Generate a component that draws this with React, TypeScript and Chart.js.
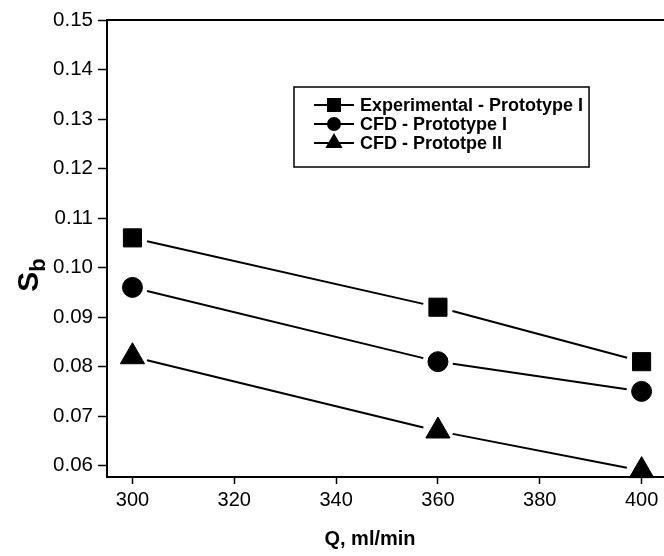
import React, { useEffect, useRef } from 'react';
import { Chart, registerables } from 'chart.js';

Chart.register(...registerables);

// ---- data ----
const flowRates = [300, 360, 400];
const experimentalProtoI = [0.106, 0.092, 0.081];
const cfdProtoI = [0.096, 0.081, 0.075];
const cfdProtoII = [0.082, 0.067, 0.059];
const seriesLabels = ['Experimental - Prototype I', 'CFD - Prototype I', 'CFD - Prototpe II'];
const seriesMarkers = ['rect', 'circle', 'triangle'];
const xTickValues = [300, 320, 340, 360, 380, 400];
const yTickValues = [0.06, 0.07, 0.08, 0.09, 0.1, 0.11, 0.12, 0.13, 0.14, 0.15];
const xTitle = 'Q, ml/min';
const yTitleMain = 'S';
const yTitleSub = 'b';

const FONT = '"Liberation Sans", Arial, Helvetica, sans-serif';
const W = 664;
const H = 556;

function drawMarker(ctx: CanvasRenderingContext2D, style: string, x: number, y: number, s: number) {
  ctx.beginPath();
  if (style === 'rect') {
    ctx.rect(x - s / 2, y - s / 2, s, s);
  } else if (style === 'circle') {
    ctx.arc(x, y, s / 2, 0, Math.PI * 2);
  } else {
    const r = s / 1.5;
    ctx.moveTo(x, y - r);
    ctx.lineTo(x + r * 0.866, y + r * 0.5);
    ctx.lineTo(x - r * 0.866, y + r * 0.5);
    ctx.closePath();
  }
  ctx.fill();
}

const gapLinesPlugin = {
  id: 'gapLines',
  beforeDatasetsDraw(chart: any) {
    const ctx = chart.ctx as CanvasRenderingContext2D;
    const gap = 15;
    ctx.save();
    ctx.strokeStyle = '#000';
    ctx.lineWidth = 2;
    chart.data.datasets.forEach((_ds: any, i: number) => {
      const pts = chart.getDatasetMeta(i).data;
      for (let k = 0; k < pts.length - 1; k++) {
        const a = pts[k];
        const b = pts[k + 1];
        const dx = b.x - a.x;
        const dy = b.y - a.y;
        const len = Math.hypot(dx, dy);
        const ux = dx / len;
        const uy = dy / len;
        ctx.beginPath();
        ctx.moveTo(a.x + ux * gap, a.y + uy * gap);
        ctx.lineTo(b.x - ux * gap, b.y - uy * gap);
        ctx.stroke();
      }
    });
    ctx.restore();
  },
};

const decorPlugin = {
  id: 'decor',
  afterDraw(chart: any) {
    const ctx = chart.ctx as CanvasRenderingContext2D;
    const area = chart.chartArea;
    ctx.save();
    // top frame line
    ctx.strokeStyle = '#000';
    ctx.lineWidth = 2;
    ctx.beginPath();
    ctx.moveTo(area.left - 1, area.top);
    ctx.lineTo(W, area.top);
    ctx.stroke();

    // x title
    ctx.fillStyle = '#000';
    ctx.font = `bold 20px ${FONT}`;
    ctx.textAlign = 'center';
    ctx.textBaseline = 'alphabetic';
    ctx.fillText(xTitle, 370, 545);

    // y title with subscript
    ctx.save();
    ctx.translate(38, 275);
    ctx.rotate(-Math.PI / 2);
    ctx.font = `bold 30px ${FONT}`;
    const wS = ctx.measureText(yTitleMain).width;
    ctx.font = `bold 22px ${FONT}`;
    const wB = ctx.measureText(yTitleSub).width;
    const total = wS + wB;
    ctx.textAlign = 'left';
    ctx.font = `bold 30px ${FONT}`;
    ctx.fillText(yTitleMain, -total / 2, 0);
    ctx.font = `bold 22px ${FONT}`;
    ctx.fillText(yTitleSub, -total / 2 + wS, 7);
    ctx.restore();

    // legend
    const lx = 294;
    const ly = 87;
    ctx.font = `bold 18px ${FONT}`;
    let maxW = 0;
    seriesLabels.forEach((l) => {
      maxW = Math.max(maxW, ctx.measureText(l).width);
    });
    const lw = 360 - lx + maxW + 6;
    const lh = 80;
    ctx.lineWidth = 1.5;
    ctx.strokeRect(lx, ly, lw, lh);
    const rows = [105, 124, 143];
    seriesLabels.forEach((label, i) => {
      const y = rows[i];
      ctx.lineWidth = 2;
      ctx.beginPath();
      ctx.moveTo(314, y);
      ctx.lineTo(354, y);
      ctx.stroke();
      drawMarker(ctx, seriesMarkers[i], 334, y, i === 2 ? 15 : 14);
      ctx.textAlign = 'left';
      ctx.textBaseline = 'middle';
      ctx.fillText(label, 360, y + 1);
    });
    ctx.restore();
  },
};

export default function App() {
  const ref = useRef<HTMLCanvasElement | null>(null);

  useEffect(() => {
    if (!ref.current) return;
    const mk = (data: number[], i: number) => ({
      label: seriesLabels[i],
      data: flowRates.map((x, k) => ({ x, y: data[k] })),
      showLine: false,
      pointStyle: seriesMarkers[i],
      pointRadius: i === 0 ? 12.8 : i === 1 ? 10 : 14,
      pointBackgroundColor: '#000',
      pointBorderColor: '#000',
      pointBorderWidth: 1,
      borderColor: '#000',
      backgroundColor: '#000',
      clip: false as any,
    });
    const chart = new Chart(ref.current, {
      type: 'scatter',
      data: {
        datasets: [mk(experimentalProtoI, 0), mk(cfdProtoI, 1), mk(cfdProtoII, 2)],
      },
      options: {
        animation: false,
        responsive: false,
        devicePixelRatio: 1,
        layout: { autoPadding: false, padding: { top: 20, right: 0, left: 0, bottom: 0 } },
        plugins: {
          legend: { display: false },
          tooltip: { enabled: false },
        },
        scales: {
          x: {
            type: 'linear',
            min: 295,
            max: 404.4,
            afterFit: (s: any) => {
              s.height = 79;
              s.paddingLeft = 0;
              s.paddingRight = 0;
            },
            afterBuildTicks: (s: any) => {
              s.ticks = xTickValues.map((v) => ({ value: v }));
            },
            ticks: {
              color: '#000',
              font: { family: FONT, size: 20 },
              padding: 4,
              maxRotation: 0,
              autoSkip: false,
              callback: (v: any) => String(v),
            },
            grid: {
              drawOnChartArea: false,
              drawTicks: true,
              tickLength: 7,
              tickColor: '#000',
              tickWidth: 1.5,
            },
            border: { display: true, color: '#000', width: 2 },
          },
          y: {
            type: 'linear',
            min: 0.05771,
            max: 0.15,
            afterFit: (s: any) => {
              s.width = 107;
              s.paddingTop = 0;
              s.paddingBottom = 0;
            },
            afterBuildTicks: (s: any) => {
              s.ticks = yTickValues.map((v) => ({ value: v }));
            },
            ticks: {
              color: '#000',
              font: { family: FONT, size: 20.5 },
              padding: 5,
              autoSkip: false,
              callback: (v: any) => Number(v).toFixed(2),
            },
            grid: {
              drawOnChartArea: false,
              drawTicks: true,
              tickLength: 9,
              tickColor: '#000',
              tickWidth: 1.5,
            },
            border: { display: true, color: '#000', width: 2 },
          },
        },
      },
      plugins: [gapLinesPlugin, decorPlugin],
    });
    return () => chart.destroy();
  }, []);

  return (
    <div style={{ position: 'fixed', left: 0, top: 0, width: W, height: H, background: '#fff' }}>
      <canvas ref={ref} width={W} height={H} style={{ display: 'block', width: W, height: H }} />
    </div>
  );
}
